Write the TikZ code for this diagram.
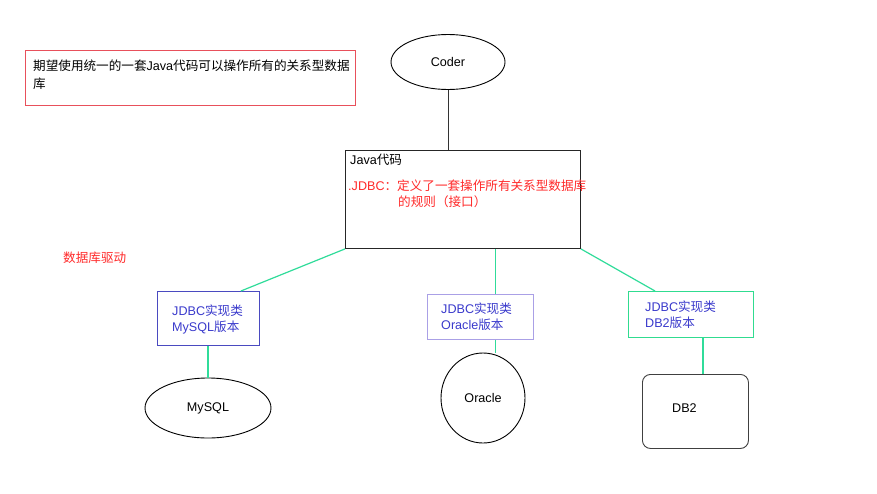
\documentclass[tikz,border=0pt]{standalone}
\usepackage{fontspec}
\setmainfont{Noto Sans CJK SC}
\newfontfamily\lat{Liberation Sans}
\usetikzlibrary{shapes.geometric,calc}
\definecolor{redbox}{HTML}{E8505B}
\definecolor{redtxt}{HTML}{FF2A2A}
\definecolor{bluetxt}{HTML}{3A3ACC}
\definecolor{greenln}{HTML}{30DC9A}
\definecolor{bluebox}{HTML}{4A4AC0}
\definecolor{purplebox}{HTML}{AAA0E6}
\definecolor{greenbox}{HTML}{30DC90}
\begin{document}
\begin{tikzpicture}[x=1pt,y=-1pt,
  every node/.style={font=\fontsize{12.6pt}{15pt}\selectfont},
  txt/.style={anchor=west,inner sep=0pt},
  ell/.style={draw=black,ellipse,inner sep=0pt,line width=0.9pt},
  conn/.style={draw=black!80,line width=0.9pt},
  gconn/.style={draw=greenln,line width=1.2pt}]
\useasboundingbox (0,0) rectangle (877,493);
\fill[white] (0,0) rectangle (877,493);
% top-left red box
\node[draw=redbox,line width=0.9pt,anchor=north west,minimum width=330pt,minimum height=55pt,inner sep=0pt] (goal) at (25,50) {};
\node[txt] (goal1) at (33,66) {期望使用统一的一套{\lat Java}代码可以操作所有的关系型数据};
\node[txt] (goal2) at (33,84) {库};
% Coder
\node[ell,minimum width=114pt,minimum height=55pt] (coder) at (448,62) {\lat Coder};
% Java box
\node[draw=black!85,line width=0.9pt,anchor=north west,minimum width=235pt,minimum height=98pt,inner sep=0pt] (java) at (345,150) {};
\node[txt] (javat) at (350,160) {{\lat Java}代码};
\node[txt,text=redtxt] (jdbc1) at (348,186) {{\lat .JDBC}：定义了一套操作所有关系型数据库};
\node[txt,text=redtxt] (jdbc2) at (398,202) {的规则（接口）};
\draw[conn] (coder.south) -- (coder.south |- java.north);
% driver label
\node[txt,text=redtxt] (drv) at (63,258) {数据库驱动};
% implementation boxes
\node[draw=bluebox,line width=0.9pt,anchor=north west,minimum width=102pt,minimum height=54pt,inner sep=0pt] (mysqlb) at (157,291) {};
\node[txt,text=bluetxt] (mysqlt1) at (172,311) {{\lat JDBC}实现类};
\node[txt,text=bluetxt] (mysqlt2) at (172,327) {{\lat MySQL}版本};
\node[draw=purplebox,line width=0.9pt,anchor=north west,minimum width=106pt,minimum height=45pt,inner sep=0pt] (orab) at (427,294) {};
\node[txt,text=bluetxt] (orat1) at (441,309) {{\lat JDBC}实现类};
\node[txt,text=bluetxt] (orat2) at (441,325) {{\lat Oracle}版本};
\node[draw=greenbox,line width=1.2pt,anchor=north west,minimum width=125pt,minimum height=46pt,inner sep=0pt] (db2b) at (628,291) {};
\node[txt,text=bluetxt] (db2t1) at (645,307) {{\lat JDBC}实现类};
\node[txt,text=bluetxt] (db2t2) at (645,323) {{\lat DB2}版本};
% green connectors
\draw[gconn] (java.south west) -- ([xshift=-19pt]mysqlb.north east);
\draw[gconn] ([xshift=32.5pt]java.south) -- ([xshift=15pt]orab.north);
\draw[gconn] (java.south east) -- ([xshift=27pt]db2b.north west);
% databases
\node[ell,minimum width=126pt,minimum height=60pt] (mysql) at (208,408) {\lat MySQL};
\node[ell,minimum width=84pt,minimum height=90pt] (oracle) at (483,398) {\lat Oracle};
\node[draw=black!75,line width=0.9pt,rounded corners=8pt,anchor=north west,minimum width=106pt,minimum height=74pt,inner sep=0pt] (db2) at (642,374) {};
\node[txt] (db2l) at (672,408) {\lat DB2};
\draw[gconn] (mysqlb.south -| mysql.north) -- (mysql.north);
\draw[gconn] ([xshift=15pt]orab.south) -- ([xshift=15pt]orab.south |- oracle.north);
\draw[gconn] ([xshift=75pt]db2b.south west) -- ([xshift=61pt]db2.north west);
\end{tikzpicture}
\end{document}
